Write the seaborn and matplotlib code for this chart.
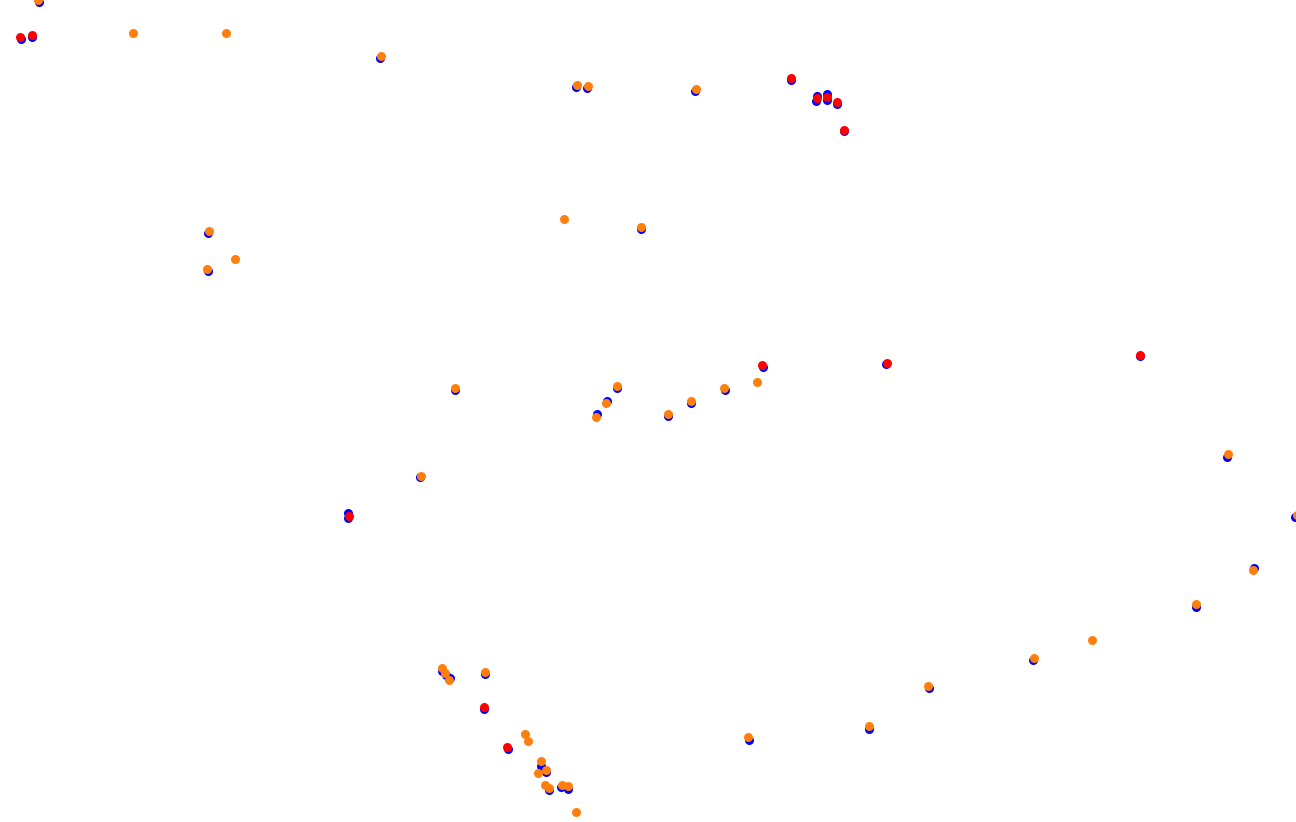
import numpy as np
import pandas as pd
import matplotlib
matplotlib.use('Agg')
import matplotlib.pyplot as plt
import seaborn as sns

# track points (x, y in image units, y grows downward)
blue_x = [39, 21, 32, 380, 576, 587, 695, 791, 817, 816, 827, 827, 837, 844,
          597, 607, 617, 668, 691, 725, 763, 886, 1140, 1227, 1295, 1254, 1196,
          208, 208, 641, 455, 420, 348, 348, 442, 446, 450, 485, 484, 508,
          541, 546, 549, 561, 568, 749, 869, 929, 1033]
blue_y = [2, 39, 37, 58, 87, 88, 91, 80, 96, 101, 94, 100, 104, 131,
          414, 401, 388, 416, 403, 390, 367, 364, 356, 457, 517, 568, 607,
          233, 271, 229, 390, 477, 513, 518, 671, 675, 678, 674, 709, 749,
          766, 772, 790, 787, 789, 740, 729, 688, 660]

red_x = [20, 32, 791, 817, 827, 837, 844, 762, 887, 1140, 349, 484, 507]
red_y = [37, 35, 78, 98, 97, 102, 130, 365, 363, 355, 516, 707, 747]

orange_x = [38, 133, 226, 381, 577, 588, 696, 596, 606, 617, 668, 691, 724, 757,
            1228, 1297, 1253, 1196, 209, 235, 207, 564, 641, 455, 421,
            442, 445, 449, 485, 525, 528, 541, 538, 546, 545, 549, 562, 568, 576,
            748, 869, 928, 1034, 1092]
orange_y = [0, 33, 33, 56, 85, 86, 89, 417, 403, 386, 414, 401, 388, 382,
            454, 515, 570, 604, 231, 259, 269, 219, 227, 388, 476,
            668, 673, 680, 672, 734, 741, 761, 773, 770, 785, 788, 785, 786, 812,
            737, 726, 686, 658, 640]

fig = plt.figure(figsize=(12.96, 8.22), dpi=100)
ax = fig.add_axes([0, 0, 1, 1])

sns.scatterplot(x=blue_x, y=blue_y, color='#0000ff', s=42, linewidth=0, ax=ax)
sns.scatterplot(x=red_x, y=red_y, color='#ff0000', s=42, linewidth=0, ax=ax)
sns.scatterplot(x=orange_x, y=orange_y, color='#ff7f0e', s=42, linewidth=0, ax=ax)

ax.set_xlim(0, 1296)
ax.set_ylim(822, 0)
ax.axis('off')

fig.savefig('out.png', dpi=100)
